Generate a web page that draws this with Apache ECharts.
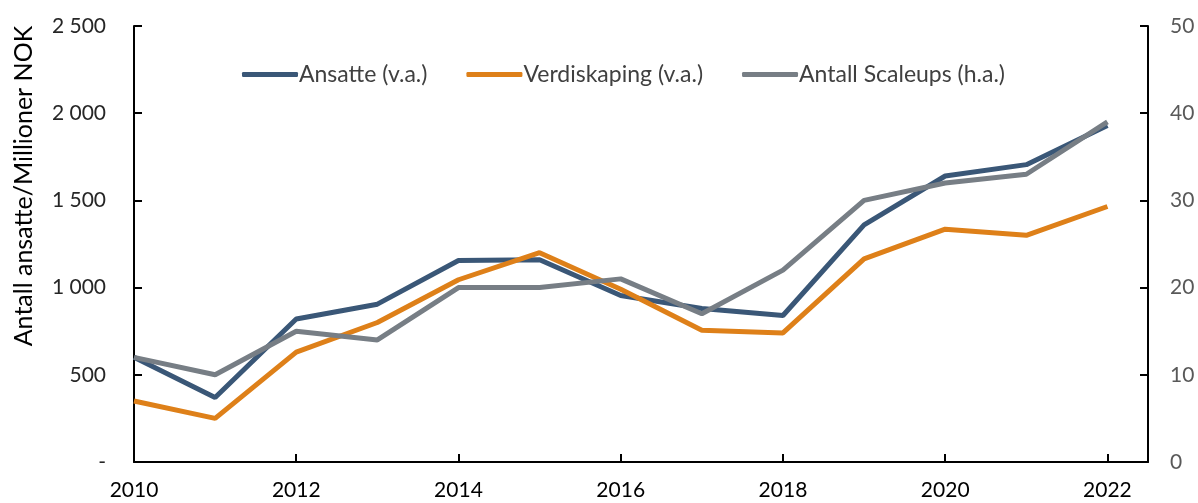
<!DOCTYPE html>
<html>
<head>
  <meta charset="utf-8" />
  <title>Scaleups</title>
  <script src="https://cdn.jsdelivr.net/npm/echarts@6/dist/echarts.min.js"></script>
  <style>
    html, body { margin: 0; padding: 0; background: #fff; }
    #main { width: 1198px; height: 503px; }
  </style>
</head>
<body>
  <div id="main"></div>
  <script>
    // data
    var years = [2010, 2011, 2012, 2013, 2014, 2015, 2016, 2017, 2018, 2019, 2020, 2021, 2022];
    var ansatte = [600, 370, 820, 905, 1155, 1160, 955, 880, 840, 1360, 1640, 1705, 1930];
    var verdiskaping = [350, 250, 630, 800, 1045, 1200, 990, 755, 740, 1165, 1335, 1300, 1465];
    var scaleups = [12, 10, 15, 14, 20, 20, 21, 17, 22, 30, 32, 33, 39];
    var seriesNames = ['Ansatte (v.a.)', 'Verdiskaping (v.a.)', 'Antall Scaleups (h.a.)'];
    var colors = ['#3a5777', '#de8019', '#777e85'];

    function pairs(vals) {
      return years.map(function (y, i) { return [y, vals[i]]; });
    }
    function fmtThousand(v) {
      if (v === 0) return '-';
      return String(v).replace(/\B(?=(\d{3})+(?!\d))/g, ' ');
    }

    var font = 'Lato, "Open Sans", sans-serif';
    var chart = echarts.init(document.getElementById('main'));
    var option = {
      animation: false,
      textStyle: { fontFamily: font },
      grid: { left: 134, right: 50, top: 26, bottom: 41, outerBoundsMode: 'none', containLabel: false },
      legend: {
        top: 58,
        left: 237,
        itemWidth: 56,
        itemHeight: 5,
        itemGap: 39,
        icon: 'roundRect',
        textStyle: { fontSize: 23, color: '#404040', fontFamily: font, padding: [0, 0, 0, -4] },
        data: seriesNames
      },
      xAxis: {
        type: 'value',
        min: 2010,
        max: 2022.5,
        interval: 2,
        axisLine: { lineStyle: { color: '#000', width: 2 } },
        axisTick: { inside: true, length: 8, lineStyle: { color: '#000', width: 2 } },
        splitLine: { show: false },
        axisLabel: {
          margin: 18,
          fontSize: 21,
          color: '#000',
          fontFamily: font,
          formatter: function (v) { return (v % 2 === 0 && v <= 2022) ? String(v) : ''; }
        }
      },
      yAxis: [{
        type: 'value',
        min: 0,
        max: 2500,
        interval: 500,
        name: 'Antall ansatte/Millioner NOK',
        nameLocation: 'middle',
        nameGap: 98,
        nameTextStyle: { fontSize: 25, color: '#000', fontFamily: font, padding: [0, 0, 0, 116] },
        axisLine: { show: true, lineStyle: { color: '#000', width: 2 } },
        axisTick: { show: true, inside: true, length: 8, lineStyle: { color: '#000', width: 2 } },
        splitLine: { show: false },
        axisLabel: { margin: 28, fontSize: 21, color: '#262626', fontFamily: font, formatter: fmtThousand }
      }, {
        type: 'value',
        min: 0,
        max: 50,
        interval: 10,
        position: 'right',
        axisLine: { show: true, lineStyle: { color: '#000', width: 2 } },
        axisTick: { show: true, inside: true, length: 8, lineStyle: { color: '#000', width: 2 } },
        splitLine: { show: false },
        axisLabel: { margin: 22, fontSize: 21, color: '#595959', fontFamily: font }
      }],
      series: [{
        name: seriesNames[0],
        type: 'line',
        yAxisIndex: 0,
        data: pairs(ansatte),
        symbol: 'none',
        lineStyle: { width: 5, color: colors[0] },
        itemStyle: { color: colors[0] }
      }, {
        name: seriesNames[1],
        type: 'line',
        yAxisIndex: 0,
        data: pairs(verdiskaping),
        symbol: 'none',
        lineStyle: { width: 5, color: colors[1] },
        itemStyle: { color: colors[1] }
      }, {
        name: seriesNames[2],
        type: 'line',
        yAxisIndex: 1,
        data: pairs(scaleups),
        symbol: 'none',
        lineStyle: { width: 5, color: colors[2] },
        itemStyle: { color: colors[2] }
      }]
    };
    chart.setOption(option);
  </script>
</body>
</html>
